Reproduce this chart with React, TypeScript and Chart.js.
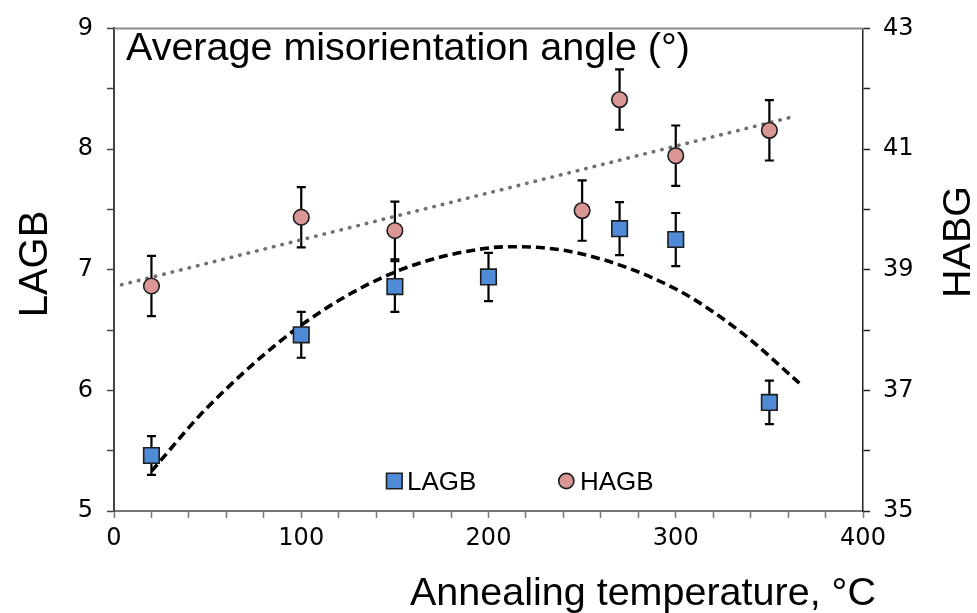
import React, { useEffect, useRef } from 'react';
import { Chart, registerables } from 'chart.js';

Chart.register(...registerables);

// ---- Data ----
const lagbTemps = [20, 100, 150, 200, 270, 300, 350];
const lagbValues = [5.46, 6.46, 6.86, 6.94, 7.34, 7.25, 5.9];
const lagbErrors = [0.16, 0.19, 0.21, 0.2, 0.22, 0.22, 0.18];

const habgTemps = [20, 100, 150, 250, 270, 300, 350];
const habgValues = [38.73, 39.87, 39.65, 39.98, 41.82, 40.89, 41.31];
const habgErrors = [0.5, 0.5, 0.48, 0.5, 0.5, 0.5, 0.5];

// polynomial trend of LAGB (dashed)
const lagbTrendTemps = [20, 50, 100, 150, 200, 215, 250, 300, 335, 366];
const lagbTrendValues = [5.33, 5.86, 6.54, 6.98, 7.18, 7.19, 7.13, 6.84, 6.48, 6.06];

// linear trend of HAGB (dotted), end points
const habgTrendTemps = [4, 362];
const habgTrendValues = [38.75, 41.53];

const xTickLabels = [0, 100, 200, 300, 400];
const leftTickLabels = [5, 6, 7, 8, 9];
const rightTickLabels = [35, 37, 39, 41, 43];

const chartTitle = 'Average misorientation angle (°)';
const xTitle = 'Annealing temperature, °C';
const leftTitle = 'LAGB';
const rightTitle = 'HABG';
const legendLabels = ['LAGB', 'HAGB'];

const BLUE = '#4F8BD6';
const PINK = '#D99694';
const EDGE = '#1e1e1e';

const zip = (xs: number[], ys: number[]) => xs.map((x, i) => ({ x, y: ys[i] }));

const errorBarPlugin = {
  id: 'errorBars',
  beforeDatasetsDraw(chart: any) {
    const c = chart.ctx;
    const xs = chart.scales.x;
    const area = chart.chartArea;
    // top frame line
    c.save();
    c.strokeStyle = '#8a8a8a';
    c.lineWidth = 2;
    c.beginPath();
    c.moveTo(area.left, area.top);
    c.lineTo(area.right, area.top);
    c.stroke();
    c.restore();

    const sets = [
      { axis: 'y', t: lagbTemps, v: lagbValues, e: lagbErrors },
      { axis: 'y2', t: habgTemps, v: habgValues, e: habgErrors },
    ];
    c.save();
    c.strokeStyle = '#000';
    c.lineWidth = 2.2;
    const cap = 4.5;
    for (const s of sets) {
      const ys = chart.scales[s.axis];
      s.t.forEach((t, i) => {
        const px = xs.getPixelForValue(t);
        const top = ys.getPixelForValue(s.v[i] + s.e[i]);
        const bot = ys.getPixelForValue(s.v[i] - s.e[i]);
        c.beginPath();
        c.moveTo(px, top);
        c.lineTo(px, bot);
        c.moveTo(px - cap, top);
        c.lineTo(px + cap, top);
        c.moveTo(px - cap, bot);
        c.lineTo(px + cap, bot);
        c.stroke();
      });
    }
    c.restore();
  },
};

const textPlugin = {
  id: 'texts',
  afterDraw(chart: any) {
    const c = chart.ctx;
    c.save();
    c.fillStyle = '#000';
    c.textBaseline = 'alphabetic';

    // title inside plot
    c.textAlign = 'left';
    c.font = '39.5px "Liberation Sans", Arial, sans-serif';
    c.fillText(chartTitle, 126, 60);

    // x title
    c.fillText(xTitle, 410, 605);

    // left y title
    c.save();
    c.font = '40px "Liberation Sans", Arial, sans-serif';
    c.translate(47, 264);
    c.rotate(-Math.PI / 2);
    c.textAlign = 'center';
    c.fillText(leftTitle, 0, 0);
    c.restore();

    // right y title
    c.save();
    c.font = '39.5px "Liberation Sans", Arial, sans-serif';
    c.translate(970, 242);
    c.rotate(-Math.PI / 2);
    c.textAlign = 'center';
    c.fillText(rightTitle, 0, 0);
    c.restore();

    // legend
    c.lineWidth = 1.6;
    c.strokeStyle = EDGE;
    c.fillStyle = BLUE;
    c.beginPath();
    c.rect(394.3 - 7.8, 481 - 7.8, 15.6, 15.6);
    c.fill();
    c.stroke();
    c.fillStyle = PINK;
    c.beginPath();
    c.arc(566.3, 481, 7.6, 0, Math.PI * 2);
    c.fill();
    c.stroke();
    c.fillStyle = '#000';
    c.font = '26px "Liberation Sans", Arial, sans-serif';
    c.textAlign = 'left';
    c.fillText(legendLabels[0], 407, 489.5);
    c.fillText(legendLabels[1], 580, 489.5);
    c.restore();
  },
};

const tickFont = { family: '"DejaVu Sans", sans-serif', size: 24 };

export default function App() {
  const ref = useRef<HTMLCanvasElement>(null);

  useEffect(() => {
    const canvas = ref.current;
    if (!canvas) return;
    const chart = new Chart(canvas, {
      type: 'scatter',
      data: {
        datasets: [
          {
            label: legendLabels[0],
            data: zip(lagbTemps, lagbValues),
            yAxisID: 'y',
            pointStyle: 'rect',
            pointRadius: 11,
            backgroundColor: BLUE,
            borderColor: EDGE,
            borderWidth: 1.6,
            showLine: false,
          },
          {
            label: legendLabels[1],
            data: zip(habgTemps, habgValues),
            yAxisID: 'y2',
            pointStyle: 'circle',
            pointRadius: 7.8,
            backgroundColor: PINK,
            borderColor: EDGE,
            borderWidth: 1.6,
            showLine: false,
          },
          {
            label: 'LAGB trend',
            data: zip(lagbTrendTemps, lagbTrendValues),
            yAxisID: 'y',
            showLine: true,
            pointRadius: 0,
            borderColor: '#000',
            borderWidth: 3.6,
            borderDash: [9, 5],
            cubicInterpolationMode: 'monotone',
            fill: false,
          },
          {
            label: 'HAGB trend',
            data: zip(habgTrendTemps, habgTrendValues),
            yAxisID: 'y2',
            showLine: true,
            pointRadius: 0,
            borderColor: '#707070',
            borderWidth: 3.6,
            borderCapStyle: 'round',
            borderDash: [0.5, 8.2],
            fill: false,
          },
        ],
      },
      options: {
        responsive: false,
        animation: false,
        events: [],
        layout: { padding: { top: 21, left: 0, right: 0, bottom: 0 } },
        plugins: {
          legend: { display: false },
          tooltip: { enabled: false },
          title: { display: false },
        },
        scales: {
          x: {
            type: 'linear',
            position: 'bottom',
            min: 0,
            max: 400,
            afterFit: (s: any) => {
              s.height = 102;
            },
            ticks: {
              stepSize: 20,
              autoSkip: false,
              maxRotation: 0,
              padding: 6,
              color: '#000',
              font: tickFont,
              callback: (v: any) => (xTickLabels.includes(Number(v)) ? String(v) : ''),
            },
            grid: {
              drawOnChartArea: false,
              drawTicks: true,
              tickLength: 7,
              tickColor: '#777',
              tickWidth: 1.5,
            },
            border: { color: '#777', width: 2 },
          },
          y: {
            type: 'linear',
            position: 'left',
            min: 5,
            max: 9,
            afterFit: (s: any) => {
              s.width = 114;
            },
            ticks: {
              stepSize: 0.5,
              autoSkip: false,
              padding: 14,
              color: '#000',
              font: tickFont,
              callback: (v: any) => (leftTickLabels.includes(Number(v)) ? String(v) : ''),
            },
            grid: {
              drawOnChartArea: false,
              drawTicks: true,
              tickLength: 7,
              tickColor: '#444',
              tickWidth: 1.5,
            },
            border: { color: '#444', width: 2 },
          },
          y2: {
            type: 'linear',
            position: 'right',
            min: 35,
            max: 43,
            afterFit: (s: any) => {
              s.width = 114;
            },
            ticks: {
              stepSize: 1,
              autoSkip: false,
              padding: 13,
              color: '#000',
              font: tickFont,
              callback: (v: any) => (rightTickLabels.includes(Number(v)) ? String(v) : ''),
            },
            grid: {
              drawOnChartArea: false,
              drawTicks: true,
              tickLength: 7,
              tickColor: '#222',
              tickWidth: 1.5,
            },
            border: { color: '#222', width: 1.5 },
          },
        },
      } as any,
      plugins: [errorBarPlugin, textPlugin],
    });
    return () => chart.destroy();
  }, []);

  return (
    <div
      style={{
        position: 'fixed',
        left: 0,
        top: 0,
        width: 977,
        height: 613,
        background: '#fff',
      }}
    >
      <canvas ref={ref} width={977} height={613} style={{ display: 'block', width: 977, height: 613 }} />
    </div>
  );
}
